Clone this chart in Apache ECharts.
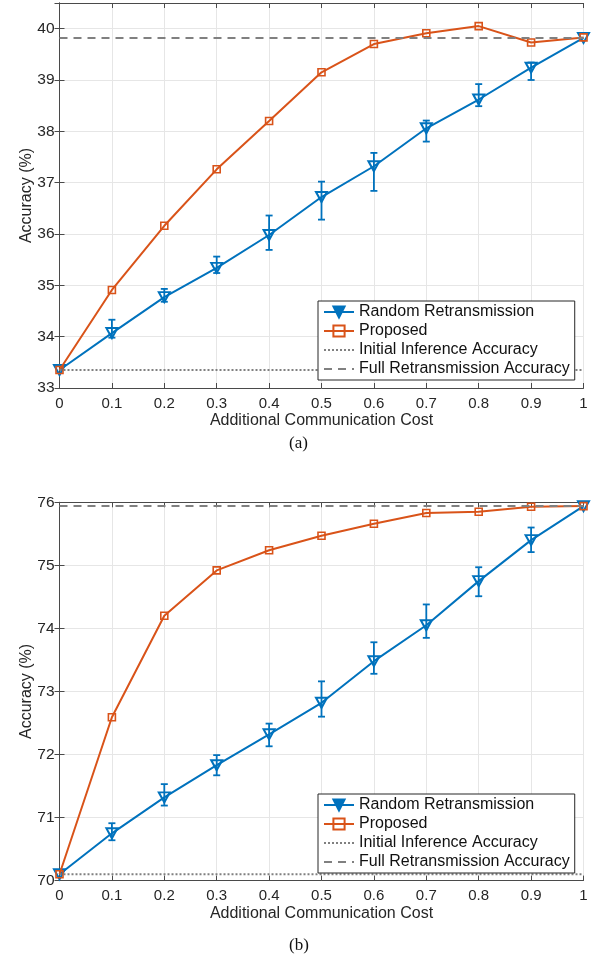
<!DOCTYPE html>
<html><head><meta charset="utf-8">
<script src="https://cdn.jsdelivr.net/npm/echarts@6/dist/echarts.min.js"></script>
<style>html,body{margin:0;padding:0;background:#fff}#c{width:592px;height:976px}</style>
</head><body><div id="c"></div>
<script>
const costs = [0,0.1,0.2,0.3,0.4,0.5,0.6,0.7,0.8,0.9,1];
// panel (a)
const randomA     = [33.35,34.07,34.77,35.34,35.98,36.72,37.32,38.06,38.62,39.24,39.82];
const randomA_low = [33.35,33.98,34.68,35.24,35.69,36.28,36.84,37.80,38.49,39.00,39.82];
const randomA_high= [33.35,34.33,34.93,35.56,36.36,37.02,37.58,38.21,38.92,39.34,39.82];
const proposedA   = [33.35,34.91,36.16,37.26,38.20,39.15,39.70,39.91,40.05,39.73,39.83];
const initialA = 33.35, fullA = 39.82;
// panel (b)
const randomB     = [70.10,70.75,71.32,71.83,72.32,72.82,73.48,74.05,74.75,75.40,75.94];
const randomB_low = [70.10,70.64,71.19,71.67,72.13,72.60,73.28,73.85,74.51,75.21,75.94];
const randomB_high= [70.10,70.91,71.53,71.99,72.49,73.16,73.78,74.38,74.97,75.60,75.94];
const proposedB   = [70.10,72.59,74.20,74.92,75.24,75.47,75.66,75.83,75.85,75.93,75.94];
const initialB = 70.10, fullB = 75.94;

const names = ['Random Retransmission','Proposed','Initial Inference Accuracy','Full Retransmission Accuracy'];
const BLUE='#0072BD', ORANGE='#D95319', GRAY='#808080', AX='#262626', BOX='#4a4a4a';
const FONT='Liberation Sans, Arial, sans-serif';

const grids = [
  {left:59.5, right:8.5, top:3, height:385},
  {left:59.5, right:8.5, top:502.3, height:378.3}
];
function xAxes(g){
  return [
    {type:'value', gridIndex:g, min:0, max:1, interval:0.1, position:'bottom',
     axisLine:{lineStyle:{color:BOX,width:1}}, axisTick:{inside:true,length:5,lineStyle:{color:BOX}},
     axisLabel:{color:AX,fontSize:15,fontFamily:FONT,margin:8,formatter:v=>String(Math.round(v*10)/10)},
     splitLine:{show:true,lineStyle:{color:'#e6e6e6',width:1}},
     name:'Additional Communication Cost', nameLocation:'middle', nameGap:25, nameMoveOverlap:false,
     nameTextStyle:{color:AX,fontSize:16,fontFamily:FONT}},
    {type:'value', gridIndex:g, min:0, max:1, interval:0.1, position:'top',
     axisLine:{lineStyle:{color:BOX,width:1}}, axisTick:{inside:true,length:5,lineStyle:{color:BOX}},
     axisLabel:{show:false}, splitLine:{show:false}}
  ];
}
function yAxes(g,min,max){
  return [
    {type:'value', gridIndex:g, min:min, max:max, interval:1, position:'left',
     axisLine:{show:true,lineStyle:{color:BOX,width:1}}, axisTick:{show:true,inside:true,length:5,lineStyle:{color:BOX}},
     axisLabel:{color:AX,fontSize:15.5,fontFamily:FONT,margin:5,
       formatter:v=>(Number.isInteger(v)?String(v):'')},
     splitLine:{show:true,lineStyle:{color:'#e6e6e6',width:1}},
     name:'Accuracy (%)', nameLocation:'middle', nameGap:25, nameRotate:90, nameMoveOverlap:false,
     nameTextStyle:{color:AX,fontSize:16,fontFamily:FONT}},
    {type:'value', gridIndex:g, min:min, max:max, interval:1, position:'right',
     axisLine:{show:true,lineStyle:{color:BOX,width:1}}, axisTick:{show:true,inside:true,length:5,lineStyle:{color:BOX}},
     axisLabel:{show:false}, splitLine:{show:false}}
  ];
}
function pairs(ys){ return costs.map((x,i)=>[x,ys[i]]); }
function errData(lo,hi){ return costs.map((x,i)=>[x,lo[i],hi[i]]); }
function errRender(params, api){
  const lo=api.value(1), hi=api.value(2);
  if (Math.abs(hi-lo)<1e-9) return null;
  const p1=api.coord([api.value(0),lo]), p2=api.coord([api.value(0),hi]);
  const w=3.5, st={stroke:BLUE,lineWidth:1.8};
  return {type:'group',children:[
    {type:'line',shape:{x1:p1[0],y1:p1[1],x2:p2[0],y2:p2[1]},style:st},
    {type:'line',shape:{x1:p1[0]-w,y1:p1[1],x2:p1[0]+w,y2:p1[1]},style:st},
    {type:'line',shape:{x1:p2[0]-w,y1:p2[1],x2:p2[0]+w,y2:p2[1]},style:st}
  ]};
}
function panelSeries(g, rnd, lo, hi, prop, init, full){
  const xi=g*2, yi=g*2;
  return [
    {type:'custom', xAxisIndex:xi, yAxisIndex:yi, renderItem:errRender, data:errData(lo,hi),
     encode:{x:0,y:[1,2]}, z:2, silent:true},
    {name:names[0], type:'line', xAxisIndex:xi, yAxisIndex:yi, data:pairs(rnd),
     symbol:'triangle', symbolRotate:180, symbolSize:[11,10], showAllSymbol:true,
     lineStyle:{color:BLUE,width:2}, itemStyle:{color:'rgba(255,255,255,0)',borderColor:BLUE,borderWidth:2}, z:3},
    {name:names[1], type:'line', xAxisIndex:xi, yAxisIndex:yi, data:pairs(prop),
     symbol:'rect', symbolSize:7, showAllSymbol:true,
     lineStyle:{color:ORANGE,width:2}, itemStyle:{color:'rgba(255,255,255,0)',borderColor:ORANGE,borderWidth:1.6}, z:4},
    {name:names[2], type:'line', xAxisIndex:xi, yAxisIndex:yi, data:[[0,init],[1,init]],
     symbol:'none', lineStyle:{color:GRAY,width:2,type:[2,2]}, itemStyle:{color:GRAY}, z:5},
    {name:names[3], type:'line', xAxisIndex:xi, yAxisIndex:yi, data:[[0,full],[1,full]],
     symbol:'none', lineStyle:{color:GRAY,width:2,type:[8,6]}, itemStyle:{color:GRAY}, z:5}
  ];
}
function legendAt(top){
  return {data:[
      {name:names[0], itemStyle:{color:BLUE,borderColor:BLUE}},
      {name:names[1]},
      {name:names[2], itemStyle:{opacity:0}},
      {name:names[3], itemStyle:{opacity:0}}
    ], orient:'vertical', left:318, top:top, itemWidth:30, itemHeight:14, itemGap:3,
    padding:[3,5,3,5], backgroundColor:'#fff', borderColor:AX, borderWidth:1, borderRadius:0,
    textStyle:{color:'#111',fontSize:16,fontFamily:FONT}, selectedMode:false, z:10};
}
const chart = echarts.init(document.getElementById('c'),null,{renderer:'canvas'});
chart.setOption({
  animation:false,
  backgroundColor:'#fff',
  grid:grids,
  xAxis:[...xAxes(0),...xAxes(1)],
  yAxis:[...yAxes(0,33,40.5),...yAxes(1,70,76)],
  legend:[legendAt(301), legendAt(794)],
  series:[...panelSeries(0,randomA,randomA_low,randomA_high,proposedA,initialA,fullA),
          ...panelSeries(1,randomB,randomB_low,randomB_high,proposedB,initialB,fullB)],
  graphic:[
    {type:'text', left:289, top:435, style:{text:'(a)', fill:'#111', font:'17px "Liberation Serif", "Times New Roman", serif'}},
    {type:'text', left:289, top:937, style:{text:'(b)', fill:'#111', font:'17px "Liberation Serif", "Times New Roman", serif'}}
  ]
});
</script></body></html>
